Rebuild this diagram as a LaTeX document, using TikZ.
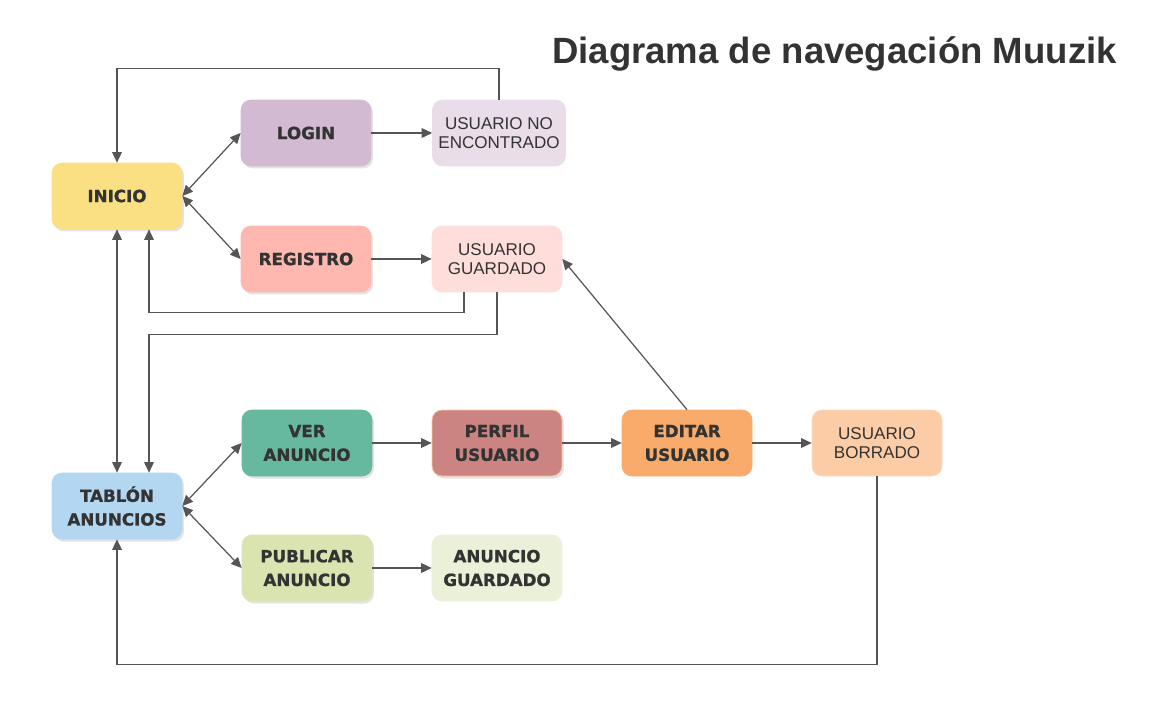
\documentclass[tikz,border=0pt]{standalone}
\usepackage{fontspec}
\setmainfont{Liberation Sans}
\newfontfamily\heavyfont{DejaVu Sans}[BoldFeatures={FakeBold=1.2}]
\usetikzlibrary{arrows.meta,shadows}

\definecolor{textdark}{HTML}{333333}
\definecolor{linegray}{HTML}{555555}
\definecolor{cinicio}{HTML}{FBE083}
\definecolor{clogin}{HTML}{D2BBD2}
\definecolor{cnoenc}{HTML}{E8DDE8}
\definecolor{cregistro}{HTML}{FFB8B0}
\definecolor{cguardado}{HTML}{FFDDDB}
\definecolor{cver}{HTML}{66B89E}
\definecolor{cperfil}{HTML}{CC8482}
\definecolor{ceditar}{HTML}{F8AB6A}
\definecolor{cborrado}{HTML}{FBCCA5}
\definecolor{ctablon}{HTML}{B3D7F0}
\definecolor{cpublicar}{HTML}{D9E4B0}
\definecolor{canuncio}{HTML}{EBF0D9}

\begin{document}
\begin{tikzpicture}[
  x=0.02cm, y=-0.02cm,
  box/.style={rectangle, rounded corners=0.2cm, minimum width=2.6cm,
    minimum height=1.32cm, align=center, text=textdark, fill=#1, draw=#1},
  heavy/.style={font=\heavyfont\bfseries\fontsize{9.5}{13.5}\selectfont},
  plain/.style={font=\fontsize{9.7}{11.2}\selectfont},
  boxshadow/.style={drop shadow={opacity=0.22, shadow xshift=0.04cm, shadow yshift=-0.05cm}},
  link/.style={draw=linegray, line width=0.7pt, -{Triangle[length=6pt,width=5.5pt]}},
  dlink/.style={draw=linegray, line width=0.7pt,
    {Triangle[length=6pt,width=5.5pt]}-{Triangle[length=6pt,width=5.5pt]}}
]
  \useasboundingbox (0,0) rectangle (1151,720);

  % titulo
  \node[anchor=base east, text=textdark,
    font=\bfseries\fontsize{20.8}{25}\selectfont] (titulo) at (1123,63)
    {Diagrama de navegación Muuzik};

  % pantallas
  \node[box=cinicio, heavy, boxshadow] (inicio) at (117,196) {INICIO};
  \node[box=clogin, heavy, boxshadow] (login) at (306,133) {LOGIN};
  \node[box=cnoenc, plain] (noencontrado) at (499,133) {USUARIO NO\\ENCONTRADO};
  \node[box=cregistro, heavy, boxshadow] (registro) at (306,259) {REGISTRO};
  \node[box=cguardado, plain] (guardado) at (497,259) {USUARIO\\GUARDADO};
  \node[box=ctablon, heavy, boxshadow] (tablon) at (117,506) {TABLÓN\\ANUNCIOS};
  \node[box=cver, heavy, boxshadow] (ver) at (307,443) {VER\\ANUNCIO};
  \node[box=cperfil, draw=ceditar!70!white, heavy, boxshadow] (perfil) at (497,443) {PERFIL\\USUARIO};
  \node[box=ceditar, heavy] (editar) at (687,443) {EDITAR\\USUARIO};
  \node[box=cborrado, draw=cborrado!70!white, plain] (borrado) at (877,443) {USUARIO\\BORRADO};
  \node[box=cpublicar, heavy, boxshadow] (publicar) at (307,568) {PUBLICAR\\ANUNCIO};
  \node[box=canuncio, heavy] (anuncio) at (497,568) {ANUNCIO\\GUARDADO};

  % conexiones
  \draw[dlink] (inicio.east) -- (login.west);
  \draw[dlink] (inicio.east) -- (registro.west);
  \draw[link] (login) -- (noencontrado);
  \draw[link] (registro) -- (guardado);
  \draw[link] (noencontrado.north) -- ++(0,-31) -| (inicio.north);
  \draw[link] ([xshift=-0.66cm]guardado.south) -- ++(0,20) -| ([xshift=0.64cm]inicio.south);
  \draw[link] (guardado.south) -- ++(0,42) -| ([xshift=0.64cm]tablon.north);
  \draw[dlink] (inicio.south) -- (tablon.north);
  \draw[dlink] (tablon.east) -- (ver.west);
  \draw[dlink] (tablon.east) -- (publicar.west);
  \draw[link] (ver) -- (perfil);
  \draw[link] (perfil) -- (editar);
  \draw[link] (editar) -- (borrado);
  \draw[link] (editar.north) -- (guardado.east);
  \draw[link] (publicar) -- (anuncio);
  \draw[link] (borrado.south) -- ++(0,188) -| (tablon.south);
\end{tikzpicture}
\end{document}
